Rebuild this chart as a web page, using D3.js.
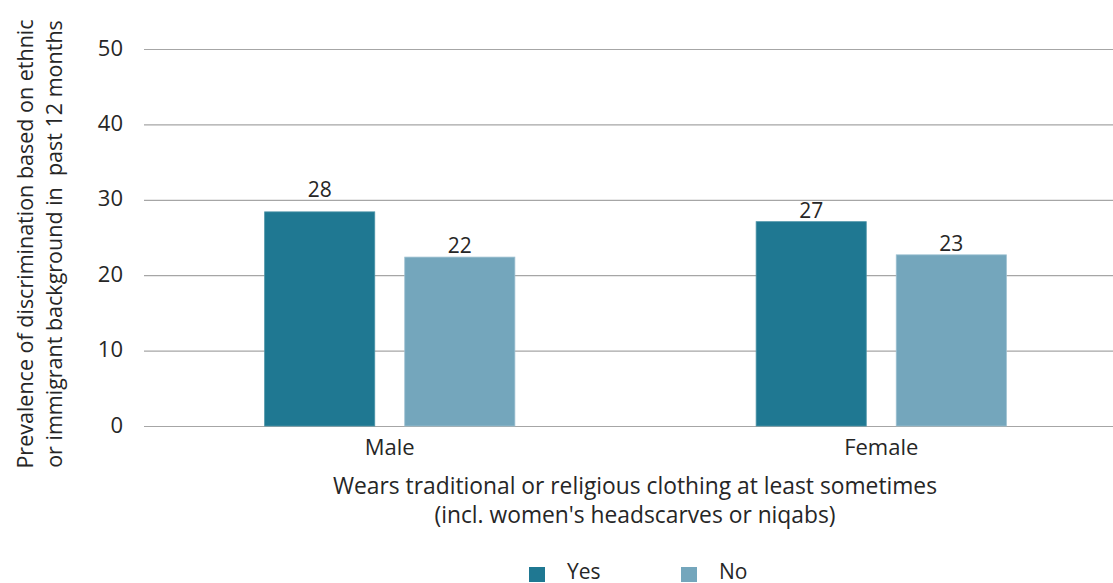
<!DOCTYPE html>
<html><head><meta charset="utf-8">
<script src="https://cdn.jsdelivr.net/npm/d3@7"></script>
<style>
body{margin:0;background:#fff;}
text{font-family:"Open Sans","Noto Sans",sans-serif;fill:#262626;}
</style></head><body>
<svg id="c" width="1113" height="583"></svg>
<script>
const categories = ["Male","Female"];
const seriesNames = ["Yes","No"];
const yesValues = [28.4, 27.1];
const noValues = [22.4, 22.7];
const yTicks = [0,10,20,30,40,50];
const colors = {Yes:"#1f7892", No:"#74a6bc"};

const svg = d3.select("#c");
const W = 1113;
const plotTop = 49, plotBottom = 426, plotLeft = 144, plotRight = 1127;

const y = d3.scaleLinear().domain([0,50]).range([plotBottom, plotTop]);
const x0 = d3.scaleBand().domain(categories).range([plotLeft, plotRight]).padding(0);
const x1 = d3.scaleBand().domain(seriesNames).range([0, x0.bandwidth()])
  .paddingInner(0.214).paddingOuter(0.861);

// gridlines
svg.append("g").selectAll("line").data(yTicks).join("line")
  .attr("x1", plotLeft).attr("x2", W).attr("y1", d=>y(d)+0.5).attr("y2", d=>y(d)+0.5)
  .attr("stroke", "#a6a6a6").attr("stroke-width", 1.2);

// y axis labels
const yAxis = d3.axisLeft(y).tickValues(yTicks).tickSize(0).tickPadding(0);
const ga = svg.append("g").attr("transform", `translate(123,0)`).call(yAxis);
ga.select(".domain").remove();
ga.selectAll("text").style("font-size","22px").attr("fill","#262626")
  .style("font-family","'Open Sans','Noto Sans',sans-serif").attr("dy","0.28em");

const data = categories.map((c,i)=>({cat:c, vals:[{k:"Yes",v:yesValues[i]},{k:"No",v:noValues[i]}]}));
const g = svg.append("g").selectAll("g").data(data).join("g")
  .attr("transform", d=>`translate(${x0(d.cat)},0)`);
g.selectAll("rect").data(d=>d.vals).join("rect")
  .attr("x", d=>x1(d.k)).attr("width", x1.bandwidth())
  .attr("y", d=>y(d.v)).attr("height", d=>y(0)-y(d.v))
  .attr("fill", d=>colors[d.k]).attr("stroke", d=>d.k==="Yes"?"#4d94a8":"#9cc0d0").attr("stroke-width",0.8);

// value labels: just above bar; if the label would cross a gridline, lift it above that line
const labelH = 15;
function labelBaseline(v){
  let b = y(v) - 4;
  for (const t of yTicks){
    const gy = y(t);
    if (gy < b && gy > b - labelH) b = gy - 3;
  }
  return b;
}
g.selectAll("text").data(d=>d.vals).join("text")
  .attr("x", d=>x1(d.k)+x1.bandwidth()/2).attr("y", d=>labelBaseline(d.v))
  .attr("text-anchor","middle").style("font-size","21px")
  .text(d=>d3.format(".0f")(d.v));

// category labels
svg.append("g").selectAll("text").data(categories).join("text")
  .attr("x", d=>x0(d)+x0.bandwidth()/2).attr("y", 455)
  .attr("text-anchor","middle").style("font-size","22px").text(d=>d);

// x axis title
const xt = ["Wears traditional or religious clothing at least sometimes","(incl. women's headscarves or niqabs)"];
svg.append("g").selectAll("text").data(xt).join("text")
  .attr("x", 635).attr("y", (d,i)=>494+i*29)
  .attr("text-anchor","middle").style("font-size","22.8px").text(d=>d);

// y axis title
const yt = ["Prevalence of discrimination based on ethnic","or immigrant background in  past 12 months"];
svg.append("g").selectAll("text").data(yt).join("text")
  .attr("transform",(d,i)=>`translate(${33+i*29},244) rotate(-90)`)
  .attr("text-anchor","middle").style("font-size","21.5px").style("white-space","pre")
  .text(d=>d);

// legend
const leg = svg.append("g").selectAll("g").data(seriesNames).join("g")
  .attr("transform",(d,i)=>`translate(${529+i*152},567)`);
leg.append("rect").attr("width",16).attr("height",15).attr("fill",d=>colors[d]);
leg.append("text").attr("x",38).attr("y",12).style("font-size","21px").text(d=>d);
</script>
</body></html>
